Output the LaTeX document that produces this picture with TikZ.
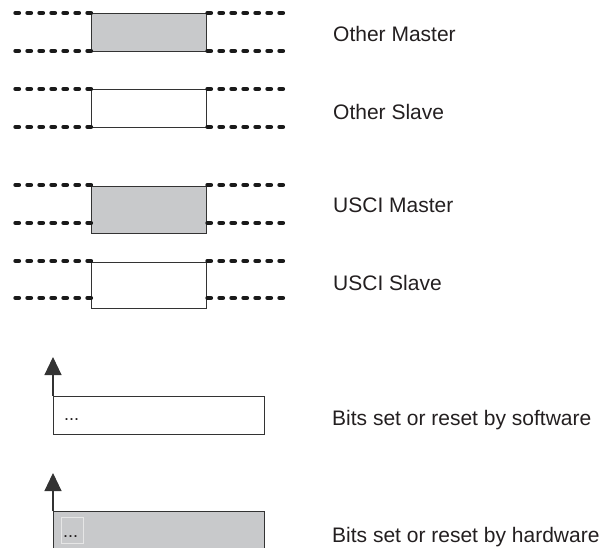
\documentclass[tikz,border=0pt]{standalone}
\usepackage{fontspec}
\setmainfont{Liberation Sans}
\definecolor{boxgray}{HTML}{C8C9CB}
\definecolor{edgegray}{HTML}{333333}
\definecolor{dotline}{HTML}{1A1A1A}
\definecolor{innergray}{HTML}{E6E6E6}
\definecolor{textgray}{HTML}{231F20}
\usetikzlibrary{arrows.meta, positioning}

\tikzset{
  sigbox/.style={draw=edgegray, line width=1.4pt, inner sep=0pt, anchor=north west},
  masterbox/.style={sigbox, fill=boxgray},
  slavebox/.style={sigbox, fill=white},
  busline/.style={dotline, line width=4.2pt, line cap=round, dash pattern=on 3.6pt off 8.4pt},
  legend/.style={anchor=base west, inner sep=0pt, text=textgray, font=\fontsize{21}{24}\selectfont},
  bitarrow/.style={-{Triangle[length=18pt,width=17pt]}, line width=1.1pt, edgegray}
}

\begin{document}
\begin{tikzpicture}[x=1pt, y=-1pt]
  \clip (0,0) rectangle (605,548);
  \useasboundingbox (0,0) rectangle (605,548);

  % Bus boxes (name / style / top / height / top line / bottom line)
  \foreach \nm/\st/\ty/\ht/\la/\lb in {om/masterbox/13/38/13/51,
                                        os/slavebox/89/38/89/127,
                                        um/masterbox/186/47/185/223,
                                        us/slavebox/262/46/261/298}{
    \node[\st, minimum width=115pt, minimum height=\ht pt] (\nm) at (91,\ty) {};
    % dotted lines left and right of the box
    \coordinate (\nm-lt) at (15,\la);
    \coordinate (\nm-lb) at (15,\lb);
    \coordinate (\nm-rt) at (283,\la);
    \coordinate (\nm-rb) at (283,\lb);
    \draw[busline] (\nm.west |- \nm-lt) -- (\nm-lt);
    \draw[busline] (\nm.west |- \nm-lb) -- (\nm-lb);
    \draw[busline] (\nm.east |- \nm-rt) -- (\nm-rt);
    \draw[busline] (\nm.east |- \nm-rb) -- (\nm-rb);
  }

  % Labels
  \node[legend] (omlbl) at (333,42) {Other Master};
  \node[legend] (oslbl) at (333,120) {Other Slave};
  \node[legend] (umlbl) at (333,213) {USCI Master};
  \node[legend] (uslbl) at (333,290) {USCI Slave};

  % Bits set by software
  \node[sigbox, fill=white, minimum width=211pt, minimum height=38pt] (sw) at (53,396) {};
  \node[legend, font=\fontsize{18}{20}\selectfont] (swdots) at (64,420) {...};
  \coordinate (swtip) at (53,357);
  \draw[bitarrow] (sw.north west) -- (swtip);
  \node[legend] (swlbl) at (332,425) {Bits set or reset by software};

  % Bits set by hardware
  \node[masterbox, minimum width=211pt, minimum height=60pt] (hw) at (53,511) {};
  \node[draw=innergray, line width=1pt, fill=boxgray, anchor=north west, inner sep=0pt,
        minimum width=22pt, minimum height=26pt] (hwin) at (61,517) {};
  \node[legend, font=\fontsize{18}{20}\selectfont] (hwdots) at (63,537) {...};
  \coordinate (hwtip) at (53,473);
  \draw[bitarrow] (hw.north west) -- (hwtip);
  \node[legend] (hwlbl) at (332,542) {Bits set or reset by hardware};
\end{tikzpicture}
\end{document}
